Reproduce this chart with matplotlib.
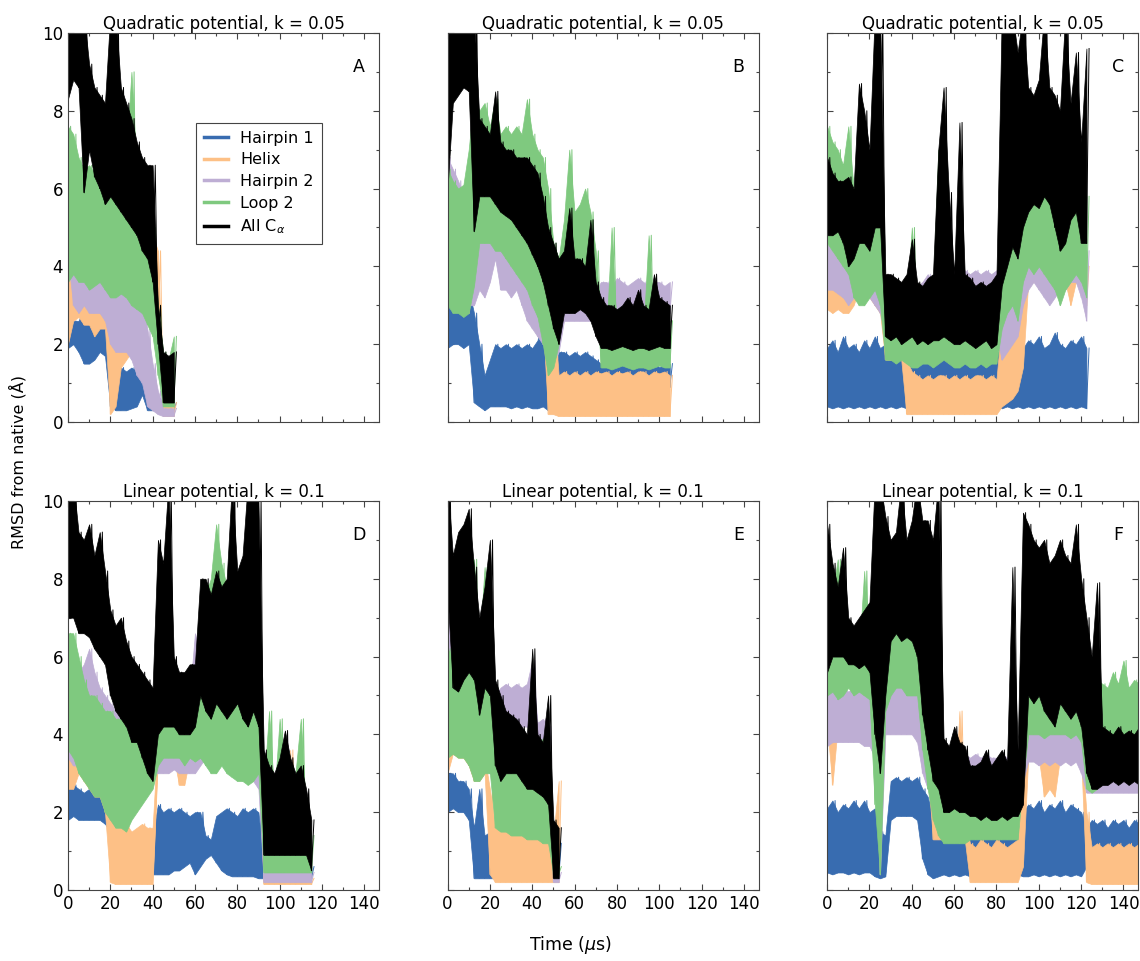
import matplotlib
matplotlib.use('Agg')
import matplotlib.pyplot as plt
from matplotlib.ticker import MultipleLocator
import numpy as np

# RMSD envelopes (low / high edge of each noisy trace), sampled every 2.5 us
STEP = 2.5

# --- A: quadratic potential, run 1 ---
A_H1_LO = [1.9, 2.0, 1.8, 1.5, 1.5, 1.6, 1.8, 1.7, 0.4, 0.3, 0.3, 0.3, 0.35, 0.4, 0.7, 0.3, 0.3, 0.3, 0.3, 0.3, 0.3]
A_H1_HI = [2.8, 2.6, 2.6, 2.9, 2.8, 2.6, 2.5, 2.4, 1.2, 1.5, 1.4, 1.3, 1.4, 1.3, 1.3, 1.1, 0.8, 0.6, 0.5, 0.5, 0.5]
A_HX_LO = [2.0, 2.6, 2.7, 2.5, 2.5, 2.2, 2.4, 2.4, 0.2, 0.4, 1.4, 1.6, 1.8, 2.0, 2.6, 3.0, 2.6, 2.3, 0.15, 0.15, 0.15]
A_HX_HI = [4.2, 4.0, 3.6, 3.4, 3.0, 3.2, 5.4, 4.5, 3.5, 2.8, 3.0, 3.2, 3.2, 3.4, 4.6, 5.0, 4.8, 4.4, 0.5, 0.45, 0.5]
A_HP2_LO = [4.2, 3.0, 2.8, 3.0, 2.8, 2.8, 2.8, 2.6, 2.0, 1.8, 1.8, 1.8, 1.6, 1.2, 1.0, 0.4, 0.3, 0.2, 0.15, 0.15, 0.15]
A_HP2_HI = [7.6, 5.0, 4.8, 4.6, 4.6, 4.5, 4.6, 4.4, 4.2, 3.8, 3.8, 3.6, 3.6, 3.4, 3.2, 2.4, 1.5, 0.8, 0.35, 0.35, 0.35]
A_L2_LO = [3.6, 3.8, 3.6, 3.6, 3.4, 3.5, 3.6, 3.4, 3.2, 3.2, 3.3, 3.2, 3.0, 2.9, 2.8, 2.5, 2.2, 1.2, 0.4, 0.4, 0.4]
A_L2_HI = [7.6, 7.4, 6.8, 6.5, 6.6, 6.4, 6.5, 6.2, 6.6, 9.4, 7.0, 6.8, 9.0, 6.4, 6.2, 6.0, 5.0, 3.0, 1.8, 1.6, 2.2]
A_ALL_LO = [8.3, 8.8, 8.6, 5.9, 7.0, 6.3, 6.0, 5.6, 5.8, 5.6, 5.4, 5.2, 5.0, 4.8, 4.4, 4.2, 3.6, 2.0, 0.5, 0.5, 0.5]
A_ALL_HI = [10.5, 10.5, 10.5, 10.5, 9.2, 8.6, 8.4, 8.2, 10.5, 10.5, 8.6, 8.2, 7.8, 7.2, 6.8, 6.6, 6.6, 3.0, 1.8, 1.7, 1.8]

# --- B: quadratic potential, run 2 ---
B_H1_LO = [1.9, 2.0, 2.0, 1.9, 2.0, 0.5, 0.4, 0.3, 0.4, 0.4, 0.4, 0.4, 0.35, 0.4, 0.35, 0.4, 0.35, 0.35, 0.4, 0.3,
           0.4, 0.8, 0.8, 0.8, 0.8, 0.8, 0.8, 0.8, 0.9, 0.9, 0.9, 0.9, 0.9, 0.9, 0.9, 0.9, 0.9, 0.9, 0.9, 0.9,
           0.9, 0.9, 0.9]
B_H1_HI = [3.0, 3.3, 3.0, 3.2, 3.4, 2.8, 2.0, 1.2, 1.6, 2.0, 1.9, 2.0, 1.9, 2.0, 1.9, 2.0, 1.9, 2.1, 2.8, 1.0,
           1.0, 1.8, 1.8, 1.7, 1.8, 1.7, 1.8, 1.7, 1.6, 1.5, 1.5, 1.4, 1.6, 1.5, 1.4, 1.8, 1.5, 1.4, 1.5, 1.6,
           1.4, 1.5, 1.5]
B_HX_LO = [3.0, 3.2, 3.2, 3.0, 2.8, 4.4, 4.4, 4.4, 4.4, 4.4, 4.4, 4.4, 4.2, 4.0, 3.8, 3.6, 3.2, 2.8, 2.6, 0.2,
           0.2, 0.15, 0.15, 0.15, 0.15, 0.15, 0.15, 0.15, 0.15, 0.15, 0.15, 0.15, 0.15, 0.15, 0.15, 0.15, 0.15,
           0.15, 0.15, 0.15, 0.15, 0.15, 0.15]
B_HX_HI = [5.0, 4.8, 4.6, 4.6, 4.4, 5.4, 5.4, 5.2, 5.2, 5.2, 5.2, 5.0, 5.0, 4.8, 4.6, 4.4, 4.2, 4.0, 3.6, 3.7,
           3.0, 1.2, 1.3, 1.2, 1.3, 1.2, 1.3, 1.2, 1.3, 1.25, 1.3, 1.2, 1.3, 1.25, 1.3, 1.2, 1.3, 1.3, 1.2, 1.3,
           1.25, 1.3, 1.2]
B_HP2_LO = [3.8, 3.6, 3.4, 3.4, 3.0, 3.0, 3.4, 3.2, 3.6, 4.2, 3.4, 3.4, 3.2, 3.4, 3.0, 2.6, 2.4, 2.2, 2.0, 1.8,
            1.6, 1.8, 2.6, 2.6, 2.6, 2.6, 2.6, 2.6, 2.6, 2.8, 2.8, 2.8, 2.8, 2.8, 2.8, 2.8, 2.8, 2.8, 2.8, 2.8,
            2.8, 2.8, 2.8]
B_HP2_HI = [6.8, 6.5, 6.2, 5.8, 5.8, 5.6, 6.1, 5.8, 5.2, 5.0, 6.4, 6.4, 6.2, 6.0, 5.6, 5.2, 4.6, 4.0, 3.6, 3.2,
            3.0, 3.0, 3.2, 3.2, 3.2, 3.1, 3.2, 3.3, 3.4, 3.6, 3.6, 3.5, 3.7, 3.6, 3.5, 3.6, 3.7, 3.6, 3.5, 3.6,
            3.6, 3.5, 3.6]
B_L2_LO = [3.0, 2.8, 2.8, 2.7, 2.8, 3.5, 4.6, 4.6, 4.6, 4.4, 4.4, 4.2, 4.0, 3.8, 3.6, 3.4, 3.0, 2.7, 2.0, 1.2,
           1.4, 2.0, 3.6, 3.6, 3.6, 3.6, 3.6, 3.6, 3.4, 1.4, 1.4, 1.35, 1.4, 1.45, 1.4, 1.35, 1.4, 1.4, 1.35, 1.4,
           1.45, 1.4, 1.4]
B_L2_HI = [6.5, 6.2, 6.0, 6.1, 7.0, 8.4, 8.0, 8.2, 7.6, 8.3, 7.4, 7.6, 7.4, 7.6, 7.4, 8.3, 7.4, 7.0, 6.8, 6.0,
           4.6, 4.2, 5.2, 7.0, 5.4, 5.6, 6.0, 5.4, 4.4, 2.4, 2.2, 5.0, 2.2, 2.3, 2.4, 2.2, 2.2, 2.3, 4.8, 2.6,
           2.3, 2.3, 2.6]
B_ALL_LO = [6.0, 8.2, 8.4, 8.6, 8.5, 4.9, 5.8, 5.8, 5.8, 5.6, 5.4, 5.3, 5.2, 5.0, 4.8, 4.6, 4.3, 4.0, 3.6, 3.0,
            2.4, 2.0, 2.8, 2.8, 2.8, 2.9, 2.8, 2.6, 2.2, 1.9, 1.9, 1.85, 1.9, 1.95, 1.9, 1.85, 1.9, 1.9, 1.85, 1.9,
            1.95, 1.9, 1.9]
B_ALL_HI = [10.5, 10.5, 10.5, 10.5, 10.5, 10.5, 7.8, 7.6, 7.4, 8.5, 7.2, 7.0, 7.0, 6.8, 6.8, 6.8, 6.6, 6.4, 5.8, 5.0,
            4.6, 4.2, 4.4, 5.5, 4.2, 4.2, 4.0, 5.2, 3.6, 3.2, 3.0, 3.0, 2.9, 3.0, 3.2, 3.0, 3.4, 3.0, 2.9, 3.8,
            3.2, 3.1, 3.0]

# --- C: quadratic potential, run 3 ---
C_H1_LO = [0.4, 0.35] * 25
C_H1_HI = [1.9, 2.1, 1.8, 2.2, 1.9, 2.0, 1.8, 2.1, 1.9, 2.2, 1.9, 2.0, 1.8, 2.0, 1.9, 1.6, 1.7, 1.5, 1.6, 1.7,
           1.6, 1.5, 1.7, 1.6, 1.5, 1.6, 1.7, 1.5, 1.6, 1.7, 1.6, 1.5, 1.7, 2.0, 2.2, 2.0, 2.3, 1.9, 2.1, 2.0,
           2.2, 1.9, 2.0, 2.3, 2.0, 1.9, 2.1, 2.0, 2.2, 1.9]
C_HX_LO = [2.9, 2.8, 2.9, 2.8, 2.8, 3.0, 3.4, 3.4, 3.2, 3.0, 2.8, 1.6, 1.6, 1.6, 1.6, 0.2, 0.2, 0.2, 0.2, 0.2,
           0.2, 0.2, 0.2, 0.2, 0.2, 0.2, 0.2, 0.2, 0.2, 0.2, 0.2, 0.2, 0.2, 0.4, 0.5, 0.6, 0.8, 1.4, 3.6, 3.6,
           3.8, 3.6, 3.6, 3.6, 3.6, 3.6, 3.0, 3.6, 3.4, 3.0]
C_HX_HI = [3.7, 3.6, 3.5, 3.6, 3.5, 4.0, 5.4, 5.0, 4.2, 4.0, 3.8, 2.6, 2.4, 2.5, 2.4, 1.6, 1.3, 1.2, 1.1, 1.2,
           1.1, 1.2, 1.2, 1.1, 1.2, 1.1, 1.2, 1.1, 1.2, 1.2, 1.1, 1.2, 1.1, 2.6, 3.0, 3.2, 3.4, 3.6, 4.4, 4.4,
           4.6, 4.4, 4.4, 4.4, 4.4, 4.6, 4.6, 4.4, 4.2, 4.0]
C_HP2_LO = [3.4, 3.4, 3.3, 3.2, 3.0, 3.2, 3.2, 3.2, 3.2, 3.0, 2.8, 2.2, 2.2, 2.3, 2.2, 2.2, 2.3, 2.2, 2.2, 2.3,
            2.2, 2.2, 2.3, 2.2, 2.2, 2.3, 2.2, 2.2, 2.3, 2.2, 2.2, 2.3, 2.2, 1.6, 1.8, 2.0, 2.2, 3.0, 3.4, 3.6,
            3.4, 3.2, 3.0, 3.2, 3.4, 3.4, 3.6, 3.6, 3.2, 2.6]
C_HP2_HI = [4.6, 4.4, 4.4, 4.4, 4.4, 4.6, 5.8, 4.8, 4.4, 4.2, 4.0, 3.6, 3.5, 3.6, 3.5, 3.6, 3.7, 3.5, 3.6, 3.8,
            3.6, 3.5, 3.7, 3.6, 3.9, 3.8, 3.9, 3.8, 3.9, 3.8, 3.9, 3.8, 3.9, 4.0, 4.6, 5.0, 5.2, 5.8, 6.0, 5.8,
            5.6, 5.4, 5.2, 5.0, 4.8, 4.8, 5.0, 4.8, 4.6, 4.4]
C_L2_LO = [4.6, 4.4, 4.2, 4.0, 3.8, 3.2, 3.0, 3.0, 3.2, 3.4, 3.0, 1.6, 1.6, 1.5, 1.6, 1.5, 1.4, 1.4, 1.5, 1.5,
           1.4, 1.5, 1.6, 1.5, 1.4, 1.4, 1.5, 1.4, 1.4, 1.5, 1.4, 1.5, 1.5, 2.4, 2.8, 3.0, 2.6, 3.6, 4.0, 3.8,
           4.0, 3.8, 3.6, 3.4, 3.0, 3.4, 3.6, 3.8, 3.6, 3.2]
C_L2_HI = [7.6, 7.2, 7.0, 6.6, 7.6, 6.0, 5.4, 5.0, 5.6, 6.6, 6.0, 3.2, 3.0, 3.0, 3.2, 3.0, 5.0, 3.0, 2.9, 3.0,
           3.2, 7.0, 4.0, 3.2, 3.0, 4.2, 3.0, 2.9, 2.8, 3.0, 2.8, 3.0, 3.0, 6.0, 7.0, 6.4, 6.0, 7.2, 7.4, 7.0,
           7.0, 6.8, 6.6, 6.4, 6.2, 6.4, 6.6, 6.5, 6.2, 5.8]
C_ALL_LO = [4.8, 4.8, 4.9, 4.6, 4.0, 4.2, 4.6, 4.6, 4.4, 5.0, 5.0, 2.2, 2.1, 2.2, 2.0, 2.1, 2.2, 2.0, 2.1, 2.0,
            2.1, 2.1, 2.2, 2.1, 2.0, 2.0, 2.1, 2.0, 1.9, 2.0, 2.1, 1.9, 2.0, 3.5, 4.0, 4.5, 4.2, 5.0, 5.4, 5.6,
            5.5, 5.8, 5.6, 5.0, 4.4, 4.6, 5.2, 5.4, 4.6, 4.6]
C_ALL_HI = [6.8, 6.4, 6.2, 6.2, 6.3, 6.0, 8.7, 8.0, 7.0, 10.5, 10.5, 3.8, 3.8, 3.7, 3.6, 3.8, 4.7, 3.6, 3.5, 3.7,
            3.8, 7.0, 8.6, 5.9, 3.8, 7.7, 3.8, 3.7, 3.5, 3.6, 3.5, 3.6, 3.8, 10.5, 10.5, 10.5, 9.5, 10.5, 8.6, 8.4,
            8.8, 10.5, 8.6, 8.4, 8.0, 10.5, 8.2, 9.5, 7.2, 9.6]

# --- D: linear potential, run 1 ---
D_H1_LO = [1.8, 1.9, 1.8, 1.8, 1.8, 1.8, 1.8, 1.7, 1.5, 0.4, 0.4, 0.4, 0.4, 0.4, 0.4, 0.4, 0.4, 0.4, 0.4, 0.4,
           0.5, 0.5, 0.6, 0.7, 0.4, 0.6, 0.8, 0.9, 0.7, 0.5, 0.4, 0.35, 0.35, 0.35, 0.35, 0.35, 0.3, 0.3, 0.3,
           0.3, 0.3, 0.3, 0.3, 0.3, 0.3, 0.3, 0.3]
D_H1_HI = [2.8, 2.7, 2.6, 2.5, 2.6, 2.5, 2.4, 2.4, 2.4, 1.4, 1.4, 1.4, 1.4, 1.4, 1.4, 1.4, 1.4, 2.2, 2.0, 2.1,
           2.0, 2.1, 2.0, 1.9, 2.0, 2.0, 1.4, 1.3, 1.9, 2.0, 2.1, 2.0, 1.9, 2.1, 2.0, 2.1, 2.0, 0.6, 0.6, 0.6,
           0.6, 0.6, 0.6, 0.6, 0.6, 0.6, 0.6]
D_HX_LO = [2.6, 2.6, 3.0, 2.8, 2.6, 2.4, 2.4, 2.0, 0.2, 0.15, 0.15, 0.15, 0.15, 0.15, 0.15, 0.15, 0.15, 3.4, 3.4,
           3.4, 3.4, 2.7, 2.7, 3.4, 3.4, 3.4, 3.6, 3.6, 3.6, 3.6, 3.6, 3.6, 3.6, 3.6, 3.6, 3.6, 3.4, 0.15, 0.15,
           0.15, 0.15, 0.15, 0.15, 0.15, 0.15, 0.15, 0.15]
D_HX_HI = [4.3, 4.0, 3.6, 3.4, 3.2, 3.0, 3.0, 2.8, 1.8, 1.6, 1.6, 1.7, 1.5, 1.6, 1.7, 1.6, 1.6, 4.0, 4.2, 4.2,
           4.0, 3.4, 3.4, 4.0, 5.2, 4.2, 4.6, 4.4, 4.6, 4.4, 4.4, 4.4, 4.4, 4.4, 4.4, 4.4, 4.0, 0.3, 0.3, 0.3,
           0.3, 0.3, 3.6, 0.3, 0.3, 0.3, 0.3]
D_HP2_LO = [3.4, 3.2, 3.2, 3.4, 3.2, 3.0, 2.8, 2.6, 2.4, 2.4, 2.4, 2.6, 2.8, 3.0, 3.2, 3.2, 3.0, 3.0, 3.0, 3.0,
            3.1, 3.0, 3.0, 3.0, 3.0, 3.2, 3.4, 3.4, 3.4, 3.6, 3.4, 3.4, 3.2, 3.0, 3.0, 2.8, 2.6, 0.2, 0.2, 0.2,
            0.2, 0.2, 0.2, 0.2, 0.2, 0.2, 0.2]
D_HP2_HI = [5.2, 5.4, 5.6, 5.8, 6.2, 5.6, 5.2, 5.0, 4.8, 4.6, 4.6, 4.6, 5.0, 5.2, 5.3, 5.2, 4.8, 4.4, 4.2, 4.2,
            4.2, 4.4, 5.0, 5.0, 6.6, 6.0, 6.4, 6.6, 6.4, 6.8, 6.2, 6.0, 5.8, 5.8, 5.6, 5.4, 5.0, 0.45, 0.45, 0.45,
            0.45, 0.45, 0.45, 0.45, 0.45, 0.45, 0.45]
D_L2_LO = [3.6, 3.4, 3.0, 2.8, 2.6, 2.4, 2.4, 2.0, 1.8, 1.6, 1.6, 1.5, 1.8, 2.0, 2.2, 2.4, 2.6, 3.2, 3.4, 3.4,
           3.4, 3.4, 3.2, 3.4, 3.3, 3.4, 3.2, 3.0, 3.0, 3.2, 3.0, 2.9, 2.8, 2.8, 2.7, 2.8, 3.0, 0.45, 0.45, 0.45,
           0.45, 0.45, 0.45, 0.45, 0.45, 0.45, 0.45]
D_L2_HI = [6.6, 6.6, 6.0, 5.4, 5.0, 5.0, 4.8, 4.6, 4.6, 4.4, 4.4, 4.2, 4.2, 4.4, 4.2, 4.2, 4.0, 4.8, 5.0, 5.0,
           4.8, 4.6, 4.8, 4.6, 4.8, 6.0, 7.6, 8.0, 9.4, 8.4, 7.8, 8.6, 7.4, 7.6, 7.2, 7.0, 6.0, 2.6, 4.6, 2.4,
           4.4, 2.6, 2.2, 3.0, 4.4, 2.0, 1.4]
D_ALL_LO = [7.0, 7.0, 6.6, 6.6, 6.5, 6.2, 6.0, 5.8, 5.0, 4.6, 4.4, 4.2, 3.8, 3.8, 3.4, 3.0, 2.8, 4.0, 4.2, 4.2,
            4.2, 4.0, 4.0, 4.0, 4.2, 5.0, 4.6, 4.4, 4.8, 4.6, 4.4, 4.6, 4.8, 4.4, 4.2, 4.6, 4.2, 0.9, 0.9, 0.9,
            0.9, 0.9, 0.9, 0.9, 0.9, 0.9, 0.5]
D_ALL_HI = [10.5, 10.5, 9.2, 9.0, 9.4, 8.6, 9.2, 8.2, 7.2, 6.8, 7.0, 6.4, 6.0, 5.8, 5.6, 5.4, 5.2, 9.0, 8.4, 10.5,
            6.0, 5.6, 5.6, 5.8, 5.8, 8.0, 8.0, 7.6, 8.2, 7.8, 8.0, 10.5, 8.2, 8.6, 10.5, 10.5, 10.0, 3.6, 3.2, 3.0,
            3.4, 4.1, 3.4, 3.0, 3.2, 2.6, 1.8]

# --- E: linear potential, run 2 ---
E_H1_LO = [2.0, 2.1, 2.0, 2.0, 1.8, 0.3, 0.3, 0.3, 0.3, 0.3, 0.3, 0.3, 0.3, 0.3, 0.3, 0.3, 0.3, 0.3, 0.3, 0.3, 0.3, 0.3]
E_H1_HI = [3.0, 3.0, 2.8, 2.8, 2.6, 1.6, 2.6, 1.4, 1.5, 1.5, 1.4, 1.2, 1.2, 1.2, 1.2, 1.2, 1.2, 1.2, 1.2, 1.2, 1.2, 1.2]
E_HX_LO = [3.0, 3.5, 3.4, 3.4, 3.2, 2.8, 2.8, 3.0, 0.4, 0.2, 0.2, 0.2, 0.2, 0.2, 0.2, 0.2, 0.2, 0.2, 0.2, 0.2, 0.2, 0.2]
E_HX_HI = [5.2, 4.4, 4.0, 3.8, 3.6, 3.4, 3.4, 3.4, 2.6, 1.6, 1.5, 1.6, 1.7, 1.5, 1.6, 1.4, 1.7, 1.6, 1.5, 1.6, 1.4, 2.8]
E_HP2_LO = [4.2, 4.0, 3.8, 3.8, 3.6, 3.4, 3.2, 3.2, 3.0, 2.8, 3.0, 4.2, 4.2, 4.2, 4.2, 4.2, 4.0, 3.4, 3.4, 3.2, 0.2, 0.2]
E_HP2_HI = [8.4, 6.6, 6.4, 6.2, 6.2, 6.0, 5.6, 5.6, 5.4, 5.0, 5.2, 5.3, 5.2, 5.3, 5.2, 5.3, 5.9, 4.3, 4.4, 4.2, 0.45, 0.45]
E_L2_LO = [3.4, 3.5, 3.4, 3.4, 3.2, 2.8, 2.8, 3.0, 3.0, 1.6, 1.5, 1.5, 1.4, 1.4, 1.4, 1.3, 1.3, 1.3, 1.2, 1.2, 0.4, 0.4]
E_L2_HI = [6.2, 6.0, 5.8, 5.6, 6.2, 8.5, 6.2, 8.3, 6.6, 4.5, 4.2, 3.6, 3.6, 3.4, 3.4, 3.2, 3.4, 3.6, 3.9, 3.2, 0.6, 0.6]
E_ALL_LO = [7.6, 5.2, 5.1, 5.4, 5.6, 5.4, 4.5, 5.2, 5.0, 3.2, 2.8, 3.0, 3.0, 3.0, 2.8, 2.6, 2.6, 2.5, 2.4, 2.2, 0.3, 0.3]
E_ALL_HI = [10.5, 8.6, 9.2, 9.4, 9.8, 8.3, 7.0, 7.8, 9.0, 5.4, 5.0, 4.6, 4.5, 4.4, 4.2, 4.0, 6.2, 4.0, 3.8, 5.0, 1.8, 1.6]

# --- F: linear potential, run 3 ---
F_H1_LO = [0.45, 0.4, 0.45, 0.45, 0.4, 0.45, 0.4, 0.45, 0.45, 0.35, 0.3, 0.35, 1.8, 1.9, 1.9, 1.9, 1.9, 1.8, 0.8, 0.4,
           0.3, 0.35, 0.4, 0.35, 0.4, 0.35, 0.4, 0.35, 0.4, 0.35, 0.4, 0.35, 0.4, 0.35, 0.4, 0.35, 0.4, 0.35, 0.35, 0.4,
           0.35, 0.4, 0.35, 0.4, 0.35, 0.4, 0.35, 0.4, 0.35, 0.6, 0.95, 1.0, 0.95, 1.0, 0.95, 1.0, 0.95, 1.0, 0.95, 1.0]
F_H1_HI = [2.1, 2.3, 2.0, 2.2, 2.1, 2.3, 2.1, 2.3, 2.0, 2.1, 1.5, 1.4, 2.8, 2.9, 2.8, 2.9, 2.8, 2.9, 2.6, 2.4,
           1.8, 1.6, 1.4, 1.5, 1.4, 1.5, 1.4, 1.4, 1.5, 1.4, 1.5, 1.4, 1.5, 1.4, 1.5, 1.4, 1.5, 2.0, 2.2, 2.1,
           2.3, 2.0, 2.2, 2.1, 2.3, 2.0, 2.2, 2.1, 2.0, 1.6, 1.8, 1.7, 1.8, 1.6, 1.8, 1.7, 1.8, 1.6, 1.8, 1.7]
F_HX_LO = [4.2, 2.7, 4.2, 4.2, 4.2, 4.2, 4.2, 4.2, 4.2, 4.0, 1.0, 4.2, 4.2, 4.2, 4.2, 4.2, 4.2, 4.0, 3.6, 3.0,
           1.3, 1.3, 1.3, 1.3, 1.3, 1.3, 1.3, 0.2, 0.2, 0.2, 0.2, 0.2, 0.2, 0.2, 0.2, 0.2, 0.2, 0.6, 3.4, 3.4,
           3.4, 2.4, 2.6, 2.4, 3.4, 3.4, 3.4, 3.4, 3.4, 0.2, 0.15, 0.15, 0.15, 0.15, 0.15, 0.15, 0.15, 0.15, 0.15, 0.15]
F_HX_HI = [5.0, 5.6, 5.0, 5.0, 4.8, 4.8, 4.8, 4.8, 4.8, 4.8, 3.6, 5.2, 5.4, 5.4, 5.8, 5.4, 5.2, 5.0, 4.6, 4.4,
           2.2, 2.0, 1.8, 1.8, 2.0, 4.6, 1.8, 1.2, 1.1, 1.3, 1.2, 1.1, 1.3, 1.2, 1.1, 1.2, 1.3, 3.0, 4.0, 4.0,
           4.0, 4.3, 4.4, 4.2, 4.0, 4.0, 4.0, 4.0, 3.8, 2.0, 1.1, 1.2, 1.1, 1.2, 1.1, 1.2, 1.1, 1.2, 1.1, 1.2]
F_HP2_LO = [3.7, 3.8, 3.8, 3.8, 3.8, 3.8, 3.8, 3.7, 3.7, 3.4, 0.4, 4.0, 4.0, 4.0, 4.0, 4.0, 4.0, 3.8, 3.0, 2.6,
            2.5, 2.5, 2.9, 3.0, 3.0, 3.0, 3.0, 2.6, 2.6, 2.5, 2.5, 2.6, 2.5, 2.6, 2.5, 2.6, 2.5, 2.8, 3.3, 3.3,
            3.2, 3.3, 3.2, 3.3, 3.2, 3.3, 3.2, 3.3, 3.0, 2.5, 2.5, 2.5, 2.5, 2.5, 2.5, 2.5, 2.5, 2.5, 2.5, 2.5]
F_HP2_HI = [6.0, 5.4, 5.2, 5.2, 5.1, 5.2, 5.1, 5.2, 5.2, 5.3, 5.0, 5.6, 5.6, 5.5, 5.6, 6.0, 5.6, 5.4, 5.0, 4.6,
            4.0, 3.8, 3.6, 3.6, 3.5, 3.6, 3.5, 3.4, 3.5, 3.4, 3.5, 3.4, 3.4, 3.5, 3.4, 3.4, 3.4, 5.0, 5.4, 5.4,
            5.2, 5.4, 5.2, 5.4, 5.2, 5.4, 5.2, 5.2, 5.0, 3.6, 3.3, 3.2, 3.3, 3.2, 3.3, 3.2, 3.3, 3.2, 3.3, 3.2]
F_L2_LO = [5.0, 5.1, 4.9, 5.0, 5.2, 5.0, 5.1, 5.0, 4.9, 2.2, 0.4, 4.6, 5.0, 5.2, 5.2, 5.0, 5.0, 5.0, 3.6, 2.6,
           1.8, 1.4, 1.2, 1.2, 1.2, 1.2, 1.2, 1.3, 1.3, 1.3, 1.3, 1.3, 1.3, 1.3, 1.3, 1.3, 1.3, 2.8, 4.0, 4.0,
           4.0, 3.9, 4.0, 4.0, 4.0, 4.0, 3.9, 4.0, 3.8, 2.6, 2.5, 2.6, 3.6, 3.6, 3.7, 3.6, 3.7, 3.6, 3.7, 3.6]
F_L2_HI = [7.0, 7.6, 8.5, 6.6, 6.2, 6.2, 6.0, 8.2, 6.0, 6.0, 8.0, 7.4, 7.6, 7.6, 8.0, 7.6, 8.2, 7.4, 7.0, 6.6,
           5.6, 4.0, 2.6, 2.5, 2.6, 2.4, 2.5, 2.0, 2.1, 2.0, 2.1, 2.0, 2.2, 2.1, 2.0, 2.2, 2.6, 7.0, 7.2, 7.0,
           6.8, 7.0, 6.6, 7.2, 6.8, 7.0, 6.6, 6.8, 6.2, 5.6, 5.0, 5.4, 5.3, 5.2, 5.6, 5.3, 5.9, 5.2, 5.4, 5.3]
F_ALL_LO = [5.6, 6.0, 6.0, 6.0, 5.8, 5.8, 5.7, 5.8, 5.6, 4.0, 3.0, 5.0, 6.4, 6.6, 6.4, 6.5, 6.4, 6.0, 4.5, 3.6,
            2.8, 2.6, 2.0, 2.0, 2.1, 2.0, 2.0, 1.9, 1.9, 1.8, 1.9, 1.8, 1.8, 1.9, 1.8, 1.9, 1.9, 2.2, 5.0, 4.8,
            5.0, 4.6, 4.4, 4.2, 4.8, 4.6, 4.4, 4.6, 4.2, 3.0, 2.6, 2.6, 2.7, 2.7, 2.8, 2.7, 2.8, 2.7, 2.8, 2.7]
F_ALL_HI = [9.4, 8.4, 7.8, 8.8, 7.0, 6.8, 7.0, 7.2, 7.4, 10.5, 10.5, 9.6, 9.0, 9.2, 10.5, 9.0, 9.5, 10.5, 9.5, 9.5,
            9.0, 10.5, 3.9, 3.7, 4.2, 3.8, 3.7, 3.2, 3.2, 3.3, 3.6, 3.2, 3.4, 3.6, 3.3, 8.3, 3.6, 9.7, 9.4, 9.0,
            8.8, 9.0, 8.4, 8.6, 9.0, 8.6, 8.4, 9.4, 8.0, 7.0, 6.0, 7.9, 4.2, 4.1, 4.0, 4.2, 4.0, 4.1, 4.0, 4.2]

LABELS = ['Hairpin 1', 'Helix', 'Hairpin 2', 'Loop 2', 'All C$_\\alpha$']
COLORS = ['#386cb0', '#fdc086', '#beaed4', '#7fc97f', '#000000']
LETTERS = ['A', 'B', 'C', 'D', 'E', 'F']
TITLES = ['Quadratic potential, k = 0.05'] * 3 + ['Linear potential, k = 0.1'] * 3

panels = [
    [(A_H1_LO, A_H1_HI), (A_HX_LO, A_HX_HI), (A_HP2_LO, A_HP2_HI), (A_L2_LO, A_L2_HI), (A_ALL_LO, A_ALL_HI)],
    [(B_H1_LO, B_H1_HI), (B_HX_LO, B_HX_HI), (B_HP2_LO, B_HP2_HI), (B_L2_LO, B_L2_HI), (B_ALL_LO, B_ALL_HI)],
    [(C_H1_LO, C_H1_HI), (C_HX_LO, C_HX_HI), (C_HP2_LO, C_HP2_HI), (C_L2_LO, C_L2_HI), (C_ALL_LO, C_ALL_HI)],
    [(D_H1_LO, D_H1_HI), (D_HX_LO, D_HX_HI), (D_HP2_LO, D_HP2_HI), (D_L2_LO, D_L2_HI), (D_ALL_LO, D_ALL_HI)],
    [(E_H1_LO, E_H1_HI), (E_HX_LO, E_HX_HI), (E_HP2_LO, E_HP2_HI), (E_L2_LO, E_L2_HI), (E_ALL_LO, E_ALL_HI)],
    [(F_H1_LO, F_H1_HI), (F_HX_LO, F_HX_HI), (F_HP2_LO, F_HP2_HI), (F_L2_LO, F_L2_HI), (F_ALL_LO, F_ALL_HI)],
]

plt.rcParams['font.family'] = ['DejaVu Sans']
plt.rcParams['font.size'] = 12

fig, axes = plt.subplots(2, 3, figsize=(11.4, 9.61), dpi=100, sharex=True, sharey=True)
fig.subplots_adjust(left=0.0596, right=0.9985, bottom=0.0739, top=0.9657, wspace=0.22, hspace=0.203)

for k, ax in enumerate(axes.flat):
    for j, ((lo, hi), color, label) in enumerate(zip(panels[k], COLORS, LABELS)):
        lo = np.asarray(lo)
        hi = np.asarray(hi)
        t = np.arange(len(lo)) * STEP
        # each trace sits above the previous one (band and its jagged edge together)
        z = 2 + j
        ax.fill_between(t, lo, hi, color=color, lw=0.5, zorder=z)
        tz = np.column_stack([t, t + STEP / 2]).ravel()
        yz = np.column_stack([lo, hi]).ravel()
        ax.plot(tz, yz, color=color, lw=0.7, label=label, zorder=z)

    ax.set_xlim(0, 147)
    ax.set_ylim(0, 10)
    ax.xaxis.set_major_locator(MultipleLocator(20))
    ax.xaxis.set_minor_locator(MultipleLocator(10))
    ax.yaxis.set_major_locator(MultipleLocator(2))
    ax.yaxis.set_minor_locator(MultipleLocator(1))
    ax.tick_params(which='both', direction='in', top=True, right=True, width=0.8, color='#444444')
    ax.tick_params(which='major', length=4, labelsize=12)
    ax.tick_params(which='minor', length=2.5)
    for sp in ax.spines.values():
        sp.set_linewidth(0.8)
        sp.set_color('#444444')
        sp.set_zorder(10)
    ax.set_title(TITLES[k], fontsize=12, pad=2)
    ax.text(0.935, 0.912, LETTERS[k], transform=ax.transAxes, ha='center', va='center', fontsize=12.5,
            zorder=11)

leg = axes[0, 0].legend(loc='upper left', bbox_to_anchor=(0.385, 0.79), fontsize=11.5, frameon=True,
                        fancybox=False, edgecolor='#444444', framealpha=1, handlelength=1.5,
                        labelspacing=0.42, borderpad=0.5)
leg.set_zorder(20)
leg.get_frame().set_linewidth(0.8)
for line in leg.get_lines():
    line.set_linewidth(2.5)

fig.text(0.0158, 0.519, 'RMSD from native (Å)', rotation=90, ha='center', va='center', fontsize=11.5)
fig.text(0.5, 0.0166, 'Time ($\\mu$s)', ha='center', va='center', fontsize=12.5)

fig.savefig('out.png', dpi=100)
